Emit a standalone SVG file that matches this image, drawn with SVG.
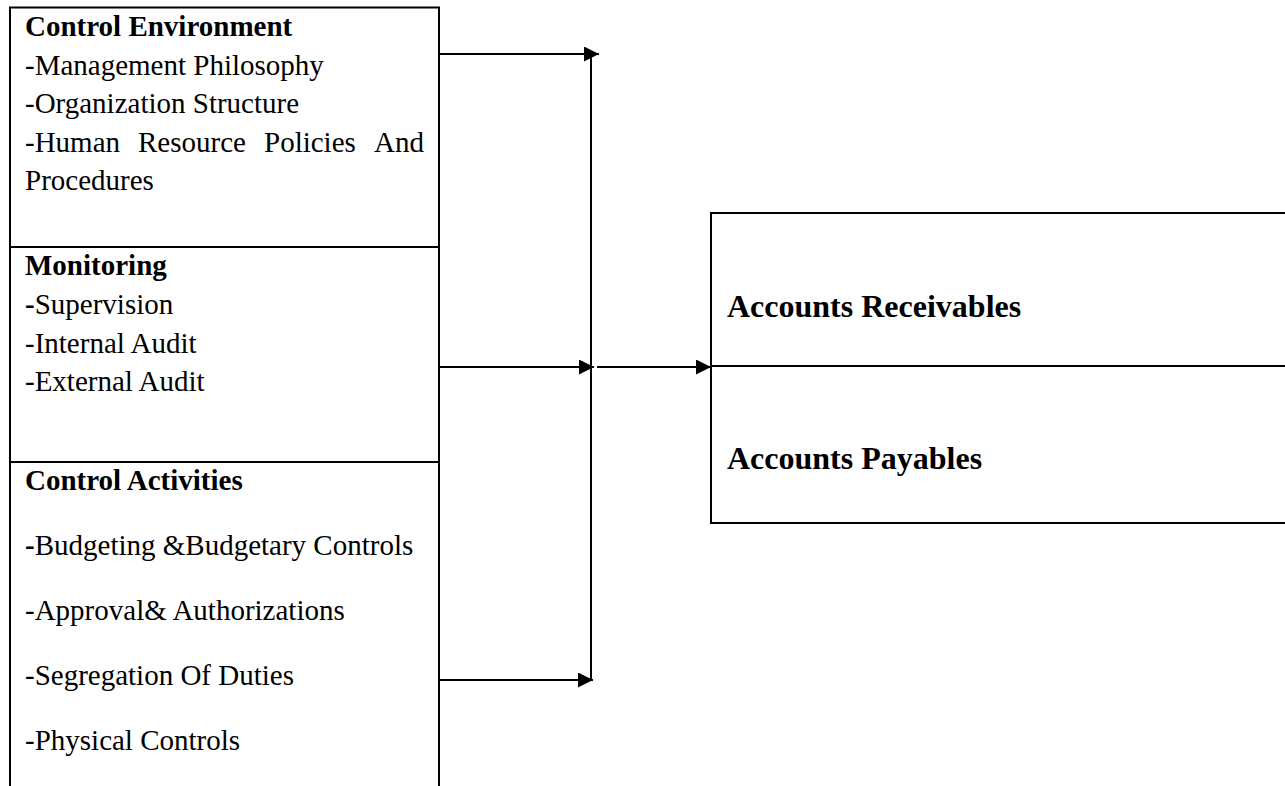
<svg xmlns="http://www.w3.org/2000/svg" width="1285" height="786" viewBox="0 0 1285 786">
<style>
.box{fill:none;stroke:#000;stroke-width:2}
.t{font-family:"Liberation Serif","Times New Roman",serif;font-size:29px;fill:#000}
.b{font-weight:bold}
.r{font-family:"Liberation Serif","Times New Roman",serif;font-size:32px;font-weight:bold;fill:#000}
.c{stroke:#000;stroke-width:2;fill:none}
</style>
<defs>
<marker id="ah" markerUnits="userSpaceOnUse" markerWidth="15" markerHeight="15" refX="15" refY="7.5" orient="auto">
<path d="M0,0 L15,7.5 L0,15 z" fill="#000"/>
</marker>
</defs>
<rect width="1285" height="786" fill="#fff"/>
<g id="control-environment">
<rect class="box" x="10" y="7.5" width="429" height="239.5"/>
<text class="t b" x="25" y="36">Control Environment</text>
<text class="t" x="25" y="74.5">-Management Philosophy</text>
<text class="t" x="25" y="113">-Organization Structure</text>
<text class="t" y="151.5"><tspan x="25">-Human</tspan><tspan x="138">Resource</tspan><tspan x="264">Policies</tspan><tspan x="374">And</tspan></text>
<text class="t" x="25" y="190">Procedures</text>
</g>
<g id="monitoring">
<rect class="box" x="10" y="247" width="429" height="215"/>
<text class="t b" x="25" y="275">Monitoring</text>
<text class="t" x="25" y="314"><tspan class="b">-</tspan>Supervision</text>
<text class="t" x="25" y="353">-Internal Audit</text>
<text class="t" x="25" y="391">-External Audit</text>
</g>
<g id="control-activities">
<rect class="box" x="10" y="462" width="429" height="340"/>
<text class="t b" x="25" y="490">Control Activities</text>
<text class="t" x="25" y="555"><tspan class="b">-</tspan>Budgeting &amp;Budgetary Controls</text>
<text class="t" x="25" y="620">-Approval&amp; Authorizations</text>
<text class="t" x="25" y="685">-Segregation Of Duties</text>
<text class="t" x="25" y="750">-Physical Controls</text>
</g>
<g id="accounts-receivables">
<rect class="box" x="711" y="213" width="590" height="153"/>
<text class="r" x="727" y="317">Accounts Receivables</text>
</g>
<g id="accounts-payables">
<rect class="box" x="711" y="366" width="590" height="157"/>
<text class="r" x="727" y="469">Accounts Payables</text>
</g>
<g id="connectors">
<line class="c" x1="439" y1="54" x2="599" y2="54" marker-end="url(#ah)"/>
<line class="c" x1="591" y1="54" x2="591" y2="681"/>
<line class="c" x1="439" y1="367" x2="594" y2="367" marker-end="url(#ah)"/>
<line class="c" x1="597" y1="367" x2="711" y2="367" marker-end="url(#ah)"/>
<line class="c" x1="439" y1="680" x2="593" y2="680" marker-end="url(#ah)"/>
</g>
</svg>
